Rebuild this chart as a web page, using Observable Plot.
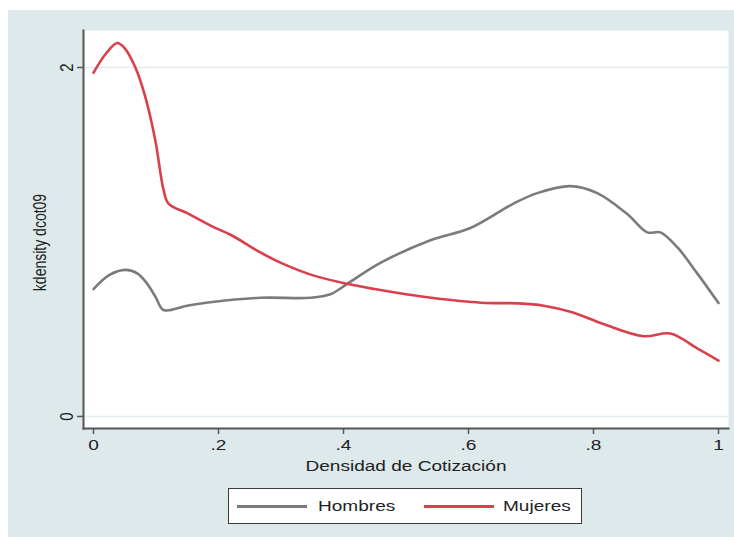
<!DOCTYPE html>
<html>
<head>
<meta charset="utf-8">
<script src="https://cdn.jsdelivr.net/npm/d3@7"></script>
<script src="https://cdn.jsdelivr.net/npm/@observablehq/plot@0.6"></script>
<style>
  html, body { margin: 0; padding: 0; background: #ffffff; width: 734px; height: 542px; overflow: hidden; }
  #bg { position: absolute; left: 8px; top: 10px; width: 726px; height: 527px; background: #dde9eb; }
  #chart { position: absolute; left: 0; top: 0; }
  #legend { position: absolute; left: 228px; top: 488px; width: 354px; height: 36px; background: #fff;
            border: 1.5px solid #3a3a3a; box-sizing: border-box; font-family: "Liberation Sans", Arial, sans-serif;
            font-size: 15px; color: #222; }
  .sw { position: absolute; top: 16px; width: 70px; height: 3px; }
  .lab { position: absolute; top: 8px; line-height: 18px; transform: scaleX(1.27); transform-origin: left center; white-space: nowrap; }
</style>
</head>
<body>
<div id="bg"></div>
<div id="chart"></div>
<div id="legend"></div>
<script>
const seriesNames = ["Hombres", "Mujeres"];
const seriesColors = ["#7b7b7b", "#d8414b"];

const hombresX = [0, 0.025, 0.051, 0.07, 0.086, 0.1, 0.112, 0.15, 0.187, 0.267, 0.347, 0.379, 0.406, 0.459, 0.539, 0.603, 0.672, 0.71, 0.763, 0.806, 0.854, 0.886, 0.907, 0.934, 0.966, 1.0];
const hombresY = [0.73, 0.81, 0.84, 0.82, 0.76, 0.68, 0.61, 0.635, 0.655, 0.68, 0.68, 0.70, 0.76, 0.88, 1.01, 1.08, 1.22, 1.28, 1.32, 1.28, 1.16, 1.055, 1.055, 0.97, 0.82, 0.65];

const mujeresX = [0, 0.02, 0.038, 0.05, 0.067, 0.083, 0.099, 0.112, 0.12, 0.15, 0.192, 0.22, 0.267, 0.3, 0.35, 0.406, 0.45, 0.5, 0.54, 0.62, 0.68, 0.72, 0.763, 0.816, 0.88, 0.923, 0.966, 1.0];
const mujeresY = [1.97, 2.08, 2.14, 2.11, 2.0, 1.83, 1.58, 1.30, 1.22, 1.165, 1.085, 1.04, 0.94, 0.88, 0.81, 0.76, 0.73, 0.70, 0.68, 0.652, 0.648, 0.635, 0.60, 0.53, 0.46, 0.475, 0.39, 0.32];

const xTicks = [0, 0.2, 0.4, 0.6, 0.8, 1];
const yTicks = [0, 2];
const xTitle = "Densidad de Cotización";
const yTitle = "kdensity dcot09";

const data = [
  ...hombresX.map((x, i) => ({serie: seriesNames[0], x, y: hombresY[i]})),
  ...mujeresX.map((x, i) => ({serie: seriesNames[1], x, y: mujeresY[i]}))
];

const fmt = d => d === 0 ? "0" : d === 1 ? "1" : String(+d.toFixed(2)).replace(/^0\./, ".");

const chart = Plot.plot({
  width: 734,
  height: 480,
  marginLeft: 83,
  marginRight: 6,
  marginTop: 30,
  marginBottom: 52,
  style: {background: "transparent", fontFamily: "Liberation Sans, Arial, sans-serif", fontSize: "15px", color: "#222"},
  x: {domain: [-0.016, 1.016]},
  y: {domain: [-0.069, 2.212]},
  color: {domain: seriesNames, range: seriesColors},
  marks: [
    Plot.frame({fill: "white", stroke: null}),
    Plot.ruleY(yTicks, {stroke: "#e3ecee", strokeWidth: 1.5}),
    Plot.line(data, {x: "x", y: "y", z: "serie", stroke: "serie", strokeWidth: 2.6, curve: "catmull-rom"}),
    Plot.frame({anchor: "left", stroke: "#555", strokeWidth: 2}),
    Plot.frame({anchor: "bottom", stroke: "#555", strokeWidth: 2}),
    Plot.axisX({ticks: xTicks, tickFormat: fmt, tickSize: 6, tickPadding: 5, stroke: "#555", strokeWidth: 1.5, label: null, fontSize: 15, fill: "#222"}),
    Plot.axisY({ticks: yTicks, tickFormat: fmt, tickSize: 6, tickPadding: 5, tickRotate: -90, stroke: "#555", strokeWidth: 1.5, label: null, fontSize: 15, fill: "#222"}),
    Plot.text([xTitle], {text: d => d, frameAnchor: "bottom", textAnchor: "middle", lineAnchor: "middle", dy: 38, fontSize: 15, fill: "#222"}),
    Plot.text([yTitle], {text: d => d, frameAnchor: "left", textAnchor: "middle", lineAnchor: "middle", dx: -43, dy: 13, rotate: -90, fontSize: 14, fill: "#222"})
  ]
});

// widen glyphs horizontally, as in the reference image
chart.querySelectorAll("text").forEach(t => {
  const tr = t.getAttribute("transform");
  if (!tr) return;
  t.setAttribute("transform", tr + (tr.includes("rotate") ? " scale(1,1.27)" : " scale(1.27,1)"));
});
document.getElementById("chart").appendChild(chart);

const legend = document.getElementById("legend");
const swX = [8, 195];
const labX = [89, 274];
seriesNames.forEach((n, i) => {
  const sw = document.createElement("span");
  sw.className = "sw";
  sw.style.left = swX[i] + "px";
  sw.style.background = seriesColors[i];
  const lab = document.createElement("span");
  lab.className = "lab";
  lab.style.left = labX[i] + "px";
  lab.textContent = n;
  legend.appendChild(sw);
  legend.appendChild(lab);
});
</script>
</body>
</html>
